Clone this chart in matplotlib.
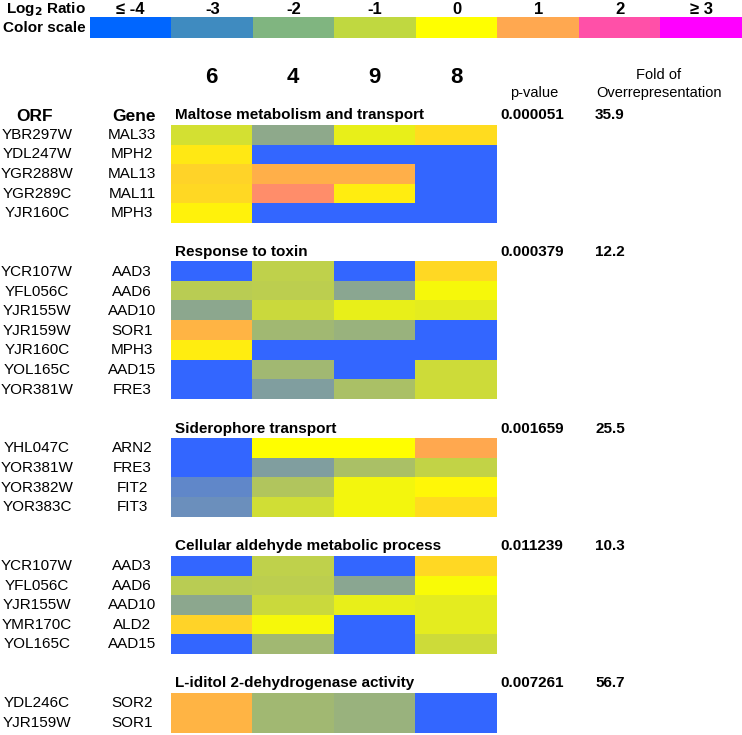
import matplotlib
matplotlib.use('Agg')
import matplotlib.pyplot as plt
import numpy as np
from matplotlib.colors import ListedColormap, LinearSegmentedColormap, Normalize

plt.rcParams['font.family'] = ['Liberation Sans', 'DejaVu Sans']

# colour scale (log2 ratio)
scale_labels = ['≤ -4', '-3', '-2', '-1', '0', '1', '2', '≥ 3']
scale_values = [-4, -3, -2, -1, 0, 1, 2, 3]
scale_colors = ['#0066FF', '#3F8BC0', '#80B580', '#C0D840',
                '#FFFF00', '#FFA850', '#FF50A8', '#FF00FF']

# colour map used for the cells (slightly softer than the printed scale)
cell_anchor_colors = ['#3366FF', '#6C90BC', '#8EA98C', '#C8D840',
                      '#FFFF00', '#FFA850', '#FF50A8', '#FF00FF']

columns = ['6', '4', '9', '8']

groups = ['Maltose metabolism and transport', 'Response to toxin',
          'Siderophore transport', 'Cellular aldehyde metabolic process',
          'L-iditol 2-dehydrogenase activity']
p_values = ['0.000051', '0.000379', '0.001659', '0.011239', '0.007261']
fold = ['35.9', '12.2', '25.5', '10.3', '56.7']

orfs = [
    ['YBR297W', 'YDL247W', 'YGR288W', 'YGR289C', 'YJR160C'],
    ['YCR107W', 'YFL056C', 'YJR155W', 'YJR159W', 'YJR160C', 'YOL165C', 'YOR381W'],
    ['YHL047C', 'YOR381W', 'YOR382W', 'YOR383C'],
    ['YCR107W', 'YFL056C', 'YJR155W', 'YMR170C', 'YOL165C'],
    ['YDL246C', 'YJR159W'],
]
genes = [
    ['MAL33', 'MPH2', 'MAL13', 'MAL11', 'MPH3'],
    ['AAD3', 'AAD6', 'AAD10', 'SOR1', 'MPH3', 'AAD15', 'FRE3'],
    ['ARN2', 'FRE3', 'FIT2', 'FIT3'],
    ['AAD3', 'AAD6', 'AAD10', 'ALD2', 'AAD15'],
    ['SOR2', 'SOR1'],
]

# log2 ratios (columns 6, 4, 9, 8)
ratios = [
    [[-0.8, -2.0, -0.4, 0.4],
     [0.25, -4, -4, -4],
     [0.5, 0.9, 0.9, -4],
     [0.45, 1.3, 0.2, -4],
     [0.15, -4, -4, -4]],
    [[-4, -1.15, -4, 0.45],
     [-1.25, -1.2, -2.1, -0.15],
     [-2.05, -0.95, -0.4, -0.5],
     [0.85, -1.65, -1.8, -4],
     [0.2, -4, -4, -4],
     [-4, -1.65, -4, -0.9],
     [-4, -2.4, -1.5, -0.9]],
    [[-4, 0.0, 0.0, 1.0],
     [-4, -2.4, -1.5, -1.1],
     [-3.2, -1.4, -0.2, 0.1],
     [-3.0, -0.85, -0.2, 0.4]],
    [[-4, -1.15, -4, 0.45],
     [-1.25, -1.2, -2.1, -0.1],
     [-2.05, -0.95, -0.4, -0.5],
     [0.5, -0.15, -4, -0.5],
     [-4, -1.65, -4, -0.9]],
    [[0.85, -1.65, -1.8, -4],
     [0.85, -1.65, -1.8, -4]],
]

norm = Normalize(vmin=-4, vmax=3)
pos = [(v + 4) / 7 for v in scale_values]
cell_cmap = LinearSegmentedColormap.from_list('cells', list(zip(pos, cell_anchor_colors)))
scale_cmap = ListedColormap(scale_colors)

fig = plt.figure(figsize=(7.42, 7.35), dpi=100)
ax = fig.add_axes([0, 0, 1, 1])
ax.set_xlim(0, 742)
ax.set_ylim(735, 0)
ax.axis('off')

# colour scale bar
ax.imshow(np.array([scale_values]), cmap=scale_cmap, vmin=-4.5, vmax=3.5,
          extent=(90, 742, 38, 17), aspect='auto', interpolation='nearest')
box_w = (742 - 90) / len(scale_labels)
for i, lab in enumerate(scale_labels):
    ax.text(90 + box_w * (i + 0.5), 9, lab, ha='center', va='center',
            fontsize=12, fontweight='bold')
ax.text(86, 9, 'Log$_\\mathbf{2}$ Ratio', ha='right', va='center', fontsize=11, fontweight='bold')
ax.text(86, 28, 'Color scale', ha='right', va='center', fontsize=11, fontweight='bold')

# heat map
x0 = 171
col_w = 81.5
row_h = 19.6
top0 = 125
for j, c in enumerate(columns):
    ax.text(x0 + col_w * (j + 0.5), 77, c, ha='center', va='center',
            fontsize=16, fontweight='bold')
ax.text(534, 93, 'p-value', ha='center', va='center', fontsize=10.5)
ax.text(659, 75, 'Fold of', ha='center', va='center', fontsize=10.5)
ax.text(659, 93, 'Overrepresentation', ha='center', va='center', fontsize=10.5)
ax.text(35, 116, 'ORF', ha='center', va='center', fontsize=12.5, fontweight='bold')
ax.text(156, 116, 'Gene', ha='right', va='center', fontsize=12.5, fontweight='bold')

k = 0
for g in range(len(groups)):
    vals = np.array(ratios[g])
    n = len(vals)
    top = top0 + row_h * k
    ax.imshow(vals, cmap=cell_cmap, norm=norm, interpolation='nearest', aspect='auto',
              extent=(x0, x0 + col_w * len(columns), top + row_h * n, top))
    ax.text(x0 + 4, top - 10, groups[g], ha='left', va='center',
            fontsize=11, fontweight='bold')
    ax.text(500, top - 10, p_values[g], ha='left', va='center', fontsize=11, fontweight='bold')
    ax.text(595, top - 10, fold[g], ha='left', va='center', fontsize=11, fontweight='bold')
    for r in range(n):
        yc = top + row_h * (r + 0.5)
        ax.text(37, yc, orfs[g][r], ha='center', va='center', fontsize=11)
        ax.text(132, yc, genes[g][r], ha='center', va='center', fontsize=11)
    k += n + 2

fig.savefig('out.png', dpi=100)
